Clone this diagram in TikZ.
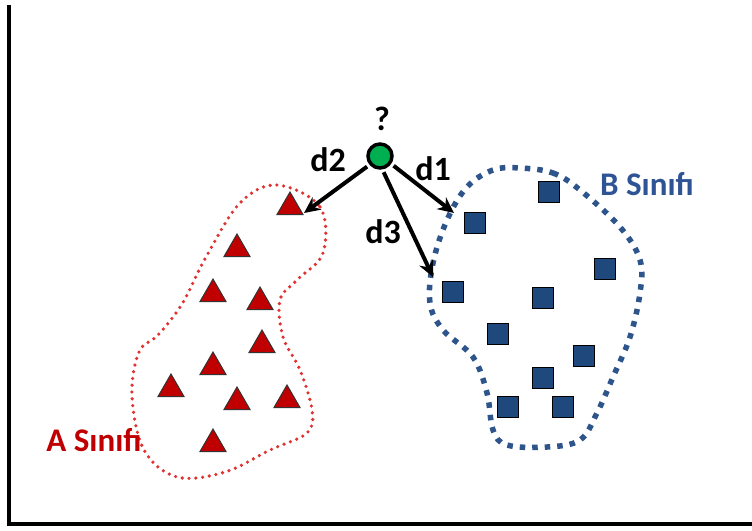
\documentclass[tikz,border=0pt]{standalone}
\usepackage{fontspec}
\setmainfont{Carlito}
\usetikzlibrary{shapes.geometric,arrows.meta}
\definecolor{tri}{RGB}{192,0,0}
\definecolor{sq}{RGB}{31,73,125}
\definecolor{grn}{RGB}{0,176,80}
\definecolor{reddot}{RGB}{225,50,50}
\definecolor{bluedot}{RGB}{46,84,140}
\definecolor{blabel}{RGB}{46,84,150}
\tikzset{
  tribox/.style={regular polygon, regular polygon sides=3, minimum size=30pt, inner sep=0pt, fill=tri, draw=black!80, line width=1pt},
  sqbox/.style={rectangle, minimum size=21pt, inner sep=0pt, fill=sq, draw=black, line width=1.8pt},
  qpoint/.style={circle, minimum size=24pt, inner sep=0pt, fill=grn, draw=black, line width=3.5pt},
  dlabel/.style={font=\bfseries\fontsize{34}{36}\selectfont, inner sep=0pt},
  clabel/.style={font=\bfseries\fontsize{33}{35}\selectfont, inner sep=0pt},
  distarrow/.style={line width=4pt, -{Stealth[length=16pt,width=15pt]}, shorten <=3pt},
  axis/.style={line width=3.5pt, black}
}
\begin{document}
\begin{tikzpicture}[x=1pt,y=-1pt]
\useasboundingbox (0,0) rectangle (752,530);
\fill[white] (0,0) rectangle (752,530);
% axes
\coordinate (ytop) at (9,5);
\coordinate (origin) at (9,524);
\coordinate (xend) at (752,524);
\draw[axis] (ytop) -- (origin) -- (xend);
% class A region
\draw[reddot, line width=3.6pt, line cap=round, dash pattern=on 0pt off 6.8pt]
 plot[smooth cycle, tension=0.6] coordinates {
 (277,185) (320,207) (323,253) (297,280) (280,300) (283,337) (300,370) (312,410)
 (307,433) (270,450) (225,472) (177,477) (144,450) (132,396) (139,352) (158,335)
 (182,304) (206,257) (240,203)};
% class B region
\draw[bluedot, line width=5.5pt, dash pattern=on 5.5pt off 7pt]
 plot[smooth cycle, tension=0.6] coordinates {
 (520,168) (553,173) (580,190) (620,227) (640,260) (640,293) (630,337) (613,377)
 (597,413) (580,440) (547,447) (507,445) (493,430) (487,393) (473,357) (443,330)
 (430,303) (433,263) (447,220) (467,187) (493,170)};
% triangles
\node[tribox] (t1) at (290,207) {};
\node[tribox] (t2) at (237,249) {};
\node[tribox] (t3) at (213,294) {};
\node[tribox] (t4) at (260,302) {};
\node[tribox] (t5) at (262,345) {};
\node[tribox] (t6) at (213,367) {};
\node[tribox] (t7) at (171,389) {};
\node[tribox] (t8) at (237,402) {};
\node[tribox] (t9) at (287,400) {};
\node[tribox] (t10) at (213,444) {};
% squares
\node[sqbox] (s1) at (549,192) {};
\node[sqbox] (s2) at (475,223) {};
\node[sqbox] (s3) at (605,269) {};
\node[sqbox] (s4) at (453,292) {};
\node[sqbox] (s5) at (543,298) {};
\node[sqbox] (s6) at (498,334) {};
\node[sqbox] (s7) at (584,356) {};
\node[sqbox] (s8) at (543,378) {};
\node[sqbox] (s9) at (508,407) {};
\node[sqbox] (s10) at (563,407) {};
% query point
\node[qpoint] (q) at (380,156) {};
\node[dlabel] (qm) at (382,119) {?};
% arrows
\coordinate (e2) at (304,213);
\coordinate (e1) at (454,213);
\coordinate (e3) at (433,277);
\draw[distarrow] (q.220) -- (e2);
\draw[distarrow] (q.-35) -- (e1);
\draw[distarrow] (q.-80) -- (e3);
\node[dlabel] (l2) at (328,160) {d2};
\node[dlabel] (l1) at (433,169) {d1};
\node[dlabel] (l3) at (383,232) {d3};
% class labels
\node[clabel, text=blabel] (lb) at (647,184) {B Sınıfı};
\node[clabel, text=tri] (la) at (94,440) {A Sınıfı};
\end{tikzpicture}
\end{document}
